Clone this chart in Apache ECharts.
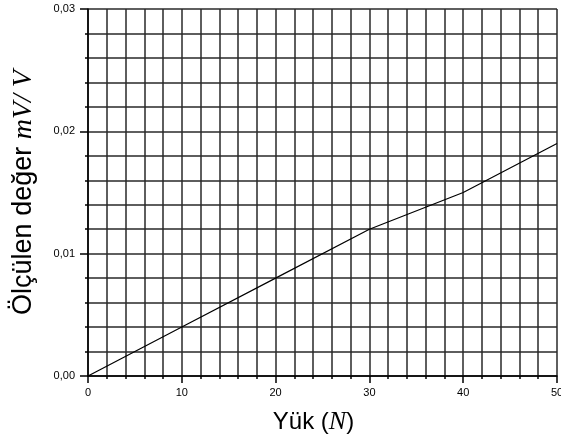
<!DOCTYPE html>
<html><head><meta charset="utf-8">
<script src="https://cdn.jsdelivr.net/npm/echarts@6/dist/echarts.min.js"></script>
<style>html,body{margin:0;padding:0;background:#fff}#c{width:561px;height:443px}</style>
</head><body><div id="c"></div>
<script>
const loads = [0, 10, 20, 30, 40, 50];
const measured = [0, 0.004, 0.008, 0.012, 0.015, 0.019];
const xTickLabels = ['0', '10', '20', '30', '40', '50'];
const yTickLabels = ['0,00', '0,01', '0,02', '0,03'];

const chart = echarts.init(document.getElementById('c'), null, {renderer: 'canvas'});
const gridLine = {show: true, lineStyle: {color: '#2a2a2a', width: 1.5}};
chart.setOption({
  animation: false,
  grid: {left: 88, right: 4, top: 9, bottom: 67, containLabel: false, outerBoundsMode: 'none'},
  xAxis: {
    type: 'value', min: 0, max: 50, interval: 10,
    axisLine: {show: true, onZero: false, lineStyle: {color: '#000', width: 1.5}},
    axisTick: {show: true, length: 7, lineStyle: {color: '#000', width: 1.5}},
    minorTick: {show: true, splitNumber: 5, length: 3, lineStyle: {color: '#000', width: 1.5}},
    splitLine: gridLine,
    minorSplitLine: gridLine,
    axisLabel: {margin: 11, fontSize: 11, color: '#000', fontFamily: 'Liberation Sans, Arial',
      formatter: v => xTickLabels[Math.round(v / 10)]},
    name: '{a|Yük (}{b|N}{a|)}',
    nameLocation: 'middle', nameGap: 33,
    nameTextStyle: {padding: [0, 18, 0, 0],
      rich: {a: {fontSize: 24, color: '#000', fontFamily: 'Liberation Sans, Arial'},
             b: {fontSize: 26, color: '#000', fontStyle: 'italic', fontFamily: 'Liberation Serif, Times New Roman'}}}
  },
  yAxis: {
    type: 'value', min: 0, max: 0.03, interval: 0.01,
    axisLine: {show: true, lineStyle: {color: '#000', width: 1.5}},
    axisTick: {show: true, length: 8, lineStyle: {color: '#000', width: 1.5}},
    minorTick: {show: true, splitNumber: 5, length: 3, lineStyle: {color: '#000', width: 1.5}},
    splitLine: gridLine,
    minorSplitLine: gridLine,
    axisLabel: {margin: 13, fontSize: 11, color: '#000', fontFamily: 'Liberation Sans, Arial',
      formatter: v => yTickLabels[Math.round(v / 0.01)]},
    name: '{a|Ölçülen değer }{b|mV/ V}',
    nameLocation: 'middle', nameGap: 50,
    nameTextStyle: {
      rich: {a: {fontSize: 27, color: '#000', fontFamily: 'Liberation Sans, Arial'},
             b: {fontSize: 28, color: '#000', fontStyle: 'italic', fontFamily: 'Liberation Serif, Times New Roman'}}}
  },
  series: [{
    type: 'line',
    data: loads.map((x, i) => [x, measured[i]]),
    showSymbol: false,
    lineStyle: {color: '#000', width: 1.2},
    z: 5
  }]
});
</script></body></html>
